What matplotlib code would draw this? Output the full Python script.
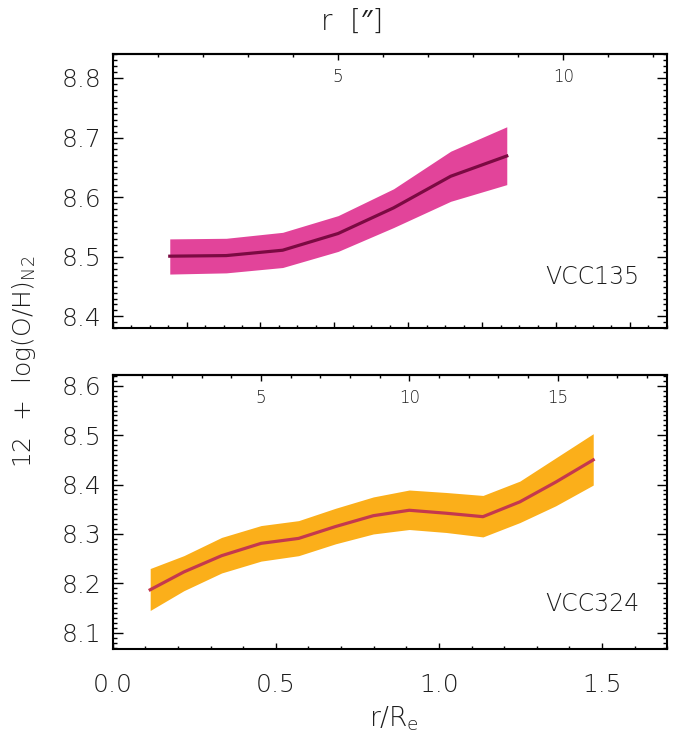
import matplotlib
matplotlib.use('Agg')
import matplotlib.pyplot as plt
from matplotlib.ticker import MultipleLocator, FixedLocator, NullFormatter, FormatStrFormatter

plt.rcParams['font.family'] = ['DejaVu Sans', 'Noto Sans', 'Roboto']
plt.rcParams['font.weight'] = 'ultralight'
plt.rcParams['mathtext.fontset'] = 'custom'
plt.rcParams['mathtext.rm'] = 'DejaVu Sans:ultralight'
plt.rcParams['mathtext.it'] = 'DejaVu Sans:ultralight'

# VCC135 profile (r/Re, 12+log(O/H))
r135 = [0.175, 0.348, 0.521, 0.691, 0.861, 1.036, 1.208]
oh135 = [8.501, 8.502, 8.511, 8.539, 8.582, 8.635, 8.669]
hi135 = [8.530, 8.531, 8.541, 8.569, 8.614, 8.677, 8.718]
lo135 = [8.471, 8.473, 8.482, 8.509, 8.549, 8.593, 8.621]

# VCC324 profile
r324 = [0.115, 0.218, 0.334, 0.455, 0.570, 0.683, 0.799, 0.909, 1.022, 1.135, 1.248, 1.358, 1.473]
oh324 = [8.187, 8.223, 8.256, 8.281, 8.291, 8.315, 8.337, 8.348, 8.342, 8.335, 8.365, 8.405, 8.450]
hi324 = [8.230, 8.256, 8.293, 8.317, 8.327, 8.352, 8.375, 8.389, 8.384, 8.378, 8.407, 8.454, 8.503]
lo324 = [8.145, 8.185, 8.221, 8.245, 8.256, 8.280, 8.300, 8.309, 8.303, 8.294, 8.323, 8.357, 8.399]

# effective radii in arcsec (for the top axes)
re135 = 7.24
re324 = 11.0
top135 = [5, 10]
top324 = [5, 10, 15]

txt = '#1e1e1e'

fig = plt.figure(figsize=(6.8, 7.38), dpi=100)
ax1 = fig.add_axes([0.1657, 0.5551, 0.8156, 0.3717])
ax2 = fig.add_axes([0.1657, 0.1206, 0.8156, 0.3713])


def style(ax, ylo, yhi):
    ax.set_xlim(0, 1.7)
    ax.set_ylim(ylo, yhi)
    for s in ax.spines.values():
        s.set_linewidth(1.5)
    ax.yaxis.set_major_locator(MultipleLocator(0.1))
    ax.yaxis.set_minor_locator(MultipleLocator(0.01))
    ax.tick_params(axis='y', which='both', direction='in', left=True, right=True,
                   labelsize=18, pad=8, labelcolor=txt)
    ax.tick_params(axis='y', which='major', length=7.5, width=1)
    ax.tick_params(axis='y', which='minor', length=3.2, width=1)
    ax.tick_params(axis='x', which='both', direction='in', top=False, labelsize=18,
                   pad=17, labelcolor=txt)
    ax.tick_params(axis='x', which='major', length=4, width=1)
    ax.tick_params(axis='x', which='minor', length=2, width=1)


def top_axis(ax, re, labels):
    sec = ax.secondary_xaxis('top', functions=(lambda x: x * re, lambda x: x / re))
    sec.xaxis.set_major_locator(FixedLocator(labels))
    sec.xaxis.set_minor_locator(MultipleLocator(1))
    sec.tick_params(which='both', direction='in', labelsize=12, pad=-23, labelcolor=txt)
    sec.tick_params(which='major', length=4, width=1)
    sec.tick_params(which='minor', length=2, width=1)
    sec.spines['top'].set_linewidth(1.5)
    return sec


# top panel
style(ax1, 8.38, 8.84)
ax1.fill_between(r135, lo135, hi135, color='#e2449a', lw=0)
ax1.plot(r135, oh135, color='#7b0a42', lw=2.3)
step = 0.2265
ax1.xaxis.set_major_locator(FixedLocator([k * step for k in range(8)]))
ax1.xaxis.set_minor_locator(FixedLocator([k * step / 4 for k in range(31)]))
ax1.xaxis.set_major_formatter(NullFormatter())
ax1.text(1.614, 8.4656, 'VCC135', ha='right', va='center', fontsize=17, color=txt)
top_axis(ax1, re135, top135)

# bottom panel
style(ax2, 8.067, 8.622)
ax2.fill_between(r324, lo324, hi324, color='#fbaf1a', lw=0)
ax2.plot(r324, oh324, color='#c4384e', lw=2.3)
ax2.xaxis.set_major_locator(MultipleLocator(0.5))
ax2.xaxis.set_minor_locator(MultipleLocator(0.1))
ax2.xaxis.set_major_formatter(FormatStrFormatter('%.1f'))
ax2.text(1.614, 8.158, 'VCC324', ha='right', va='center', fontsize=17, color=txt)
top_axis(ax2, re324, top324)

fig.text(394 / 680, 1 - 719 / 738, r'r/R$_{\rm e}$', ha='center', va='center',
         fontsize=19, color=txt)
fig.text(24 / 680, 1 - 362 / 738, r'12  +  log(O/H)$_{\rm N2}$', rotation=90,
         ha='center', va='center', fontsize=18, color=txt)
fig.text(352 / 680, 1 - 22 / 738, 'r  [″]', ha='center', va='center',
         fontsize=20, color=txt)

fig.savefig('out.png', dpi=100)
